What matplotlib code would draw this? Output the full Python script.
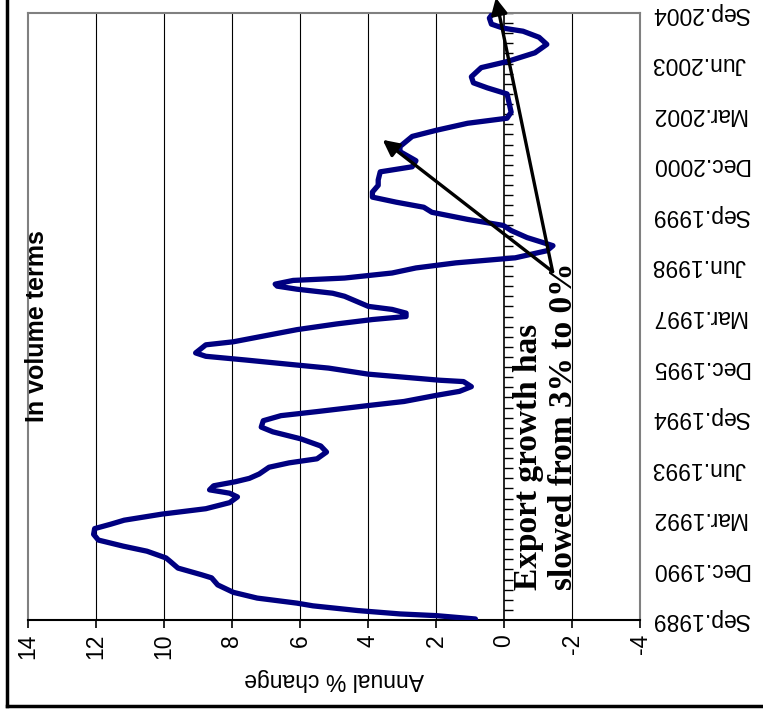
import matplotlib
matplotlib.use("Agg")
import matplotlib.pyplot as plt
from matplotlib.lines import Line2D

plt.rcParams['font.family'] = ['Liberation Sans', 'DejaVu Sans']

# Data: months since Sep.1989 and annual % change
months = [0.3, 1.3, 1.8, 2.8, 4.2, 5.0, 6.5, 8.2, 10.4, 12.5, 13.4, 15.4, 17.4,
          18.4, 20.4, 21.9, 23.7, 25.4, 27.1, 28.4, 29.6, 31.4, 33.0, 34.8,
          36.5, 37.6, 38.6, 39.8, 41.0, 42.0, 43.3, 45.3, 46.6, 47.8, 49.8,
          51.6, 53.7, 55.8, 57.2, 59.1, 60.6, 61.8, 63.6, 64.8, 66.6, 67.8,
          69.2, 70.7, 71.1, 72.9, 74.7, 75.6, 77.1, 78.2, 79.2, 81.6, 82.5,
          86.1, 87.8, 89.1, 90.0, 91.0, 92.1, 93.0, 94.5, 96.0, 96.9, 98.1,
          99.0, 99.6, 100.7, 101.4, 102.9, 104.4, 105.9, 107.4, 109.5, 111.0,
          113.4, 115.5, 117.0, 118.8, 120.9, 122.4, 123.9, 125.4, 126.9,
          128.9, 130.5, 132.9, 134.4, 136.2, 138.9, 140.4, 143.4, 145.2,
          147.3, 148.8, 150.6, 153.3, 156.0, 157.8, 159.3, 161.1, 163.8,
          165.6, 168.2, 170.7, 172.8, 174.6, 175.5, 176.7, 178.5, 180.0]
growth = [0.84, 2.0, 3.06, 4.3, 5.62, 6.09, 7.26, 7.96, 8.42, 8.6, 8.89, 9.59,
          9.82, 9.94, 10.5, 11.2, 11.93, 12.07, 12.04, 11.57, 11.17, 10.06,
          8.77, 8.07, 7.84, 8.07, 8.66, 8.54, 7.9, 7.49, 7.2, 6.91, 6.32, 5.5,
          5.22, 5.39, 5.97, 6.8, 7.14, 7.08, 6.56, 5.5, 3.99, 2.94, 2.0, 1.31,
          0.96, 1.19, 1.89, 3.99, 5.16, 6.09, 7.6, 8.77, 9.07, 8.77, 7.96,
          6.09, 4.92, 3.87, 2.88, 2.88, 3.29, 3.99, 4.34, 4.69, 5.04, 6.09,
          6.67, 6.73, 6.2, 4.69, 3.29, 2.59, 1.42, -0.33, -1.26, -1.44, -0.68,
          -0.21, 0.02, 1.07, 2.12, 2.36, 3.17, 3.87, 3.87, 3.7, 3.7, 3.64,
          2.7, 2.59, 3.06, 3.06, 2.7, 2.0, 1.07, -0.09, -0.21, -0.15, -0.09,
          0.49, 0.9, 0.96, 0.67, -0.09, -0.91, -1.26, -1.03, -0.56, 0.02,
          0.37, 0.43, 0.32]

date_labels = ['Sep.1989', 'Dec.1990', 'Mar.1992', 'Jun.1993', 'Sep.1994',
               'Dec.1995', 'Mar.1997', 'Jun.1998', 'Sep.1999', 'Dec.2000',
               'Mar.2002', 'Jun.2003', 'Sep.2004']
value_ticks = [14, 12, 10, 8, 6, 4, 2, 0, -2, -4]

fig = plt.figure(figsize=(7.63, 7.14), dpi=100)
ax = fig.add_axes([28 / 763, 1 - 620 / 714, 612 / 763, 607 / 714])

# gridlines
for v in value_ticks[1:-1]:
    if v != 0:
        ax.axvline(v, color='black', lw=0.8, zorder=1)
ax.axvline(0, color='black', lw=1.2, zorder=2)

# quarterly ticks on the zero line
quarters = list(range(0, 181, 3))
ax.hlines(quarters, 0, -0.27, color='black', lw=1.0, zorder=2)

ax.plot(growth, months, color='#000080', lw=3.8, solid_capstyle='round',
        solid_joinstyle='round', zorder=3)

ax.set_xlim(14, -4)
ax.set_ylim(0, 180)

ax.set_xticks(value_ticks)
ax.set_xticklabels([str(v) for v in value_ticks], rotation=90, fontsize=16.5)
ax.tick_params(axis='x', direction='out', length=6, width=1.2, pad=4)

ax.yaxis.tick_right()
ax.set_yticks(range(0, 181, 15))
ax.set_yticklabels(date_labels, rotation=180, fontsize=16.5, va='center')
ax.tick_params(axis='y', length=0, pad=8)

ax.set_xlabel('Annual % change', rotation=180, fontsize=16.5, labelpad=6)

for s in ['left', 'top', 'right']:
    ax.spines[s].set_color('#808080')
    ax.spines[s].set_linewidth(1.5)
ax.spines['bottom'].set_color('black')
ax.spines['bottom'].set_linewidth(1.5)

ax.text(13.74, 58.8, 'In volume terms', rotation=90, fontsize=18,
        fontweight='bold', ha='center', va='bottom')

ax.text(-1.23, 9.0, 'Export growth has\nslowed from 3% to 0%', rotation=90,
        fontsize=24, fontweight='bold', family=['Liberation Serif'],
        ha='center', va='bottom', multialignment='left', linespacing=1.15)

arrow = dict(arrowstyle='-|>', lw=2.4, color='black', mutation_scale=24,
             shrinkA=0, shrinkB=0)
ax.annotate('', xy=(3.57, 142.4), xytext=(-1.43, 103.3), arrowprops=arrow,
            annotation_clip=False)
ax.annotate('', xy=(0.24, 184.5), xytext=(-1.43, 103.3), arrowprops=arrow,
            annotation_clip=False)

# outer chart frame (left and bottom edges visible)
fig.add_artist(Line2D([7 / 763, 7 / 763], [1 - 706 / 714, 1.0],
                      transform=fig.transFigure, color='black', lw=2.5))
fig.add_artist(Line2D([7 / 763, 1.0], [1 - 706 / 714, 1 - 706 / 714],
                      transform=fig.transFigure, color='black', lw=2.5))

fig.savefig('out.png', dpi=100)
